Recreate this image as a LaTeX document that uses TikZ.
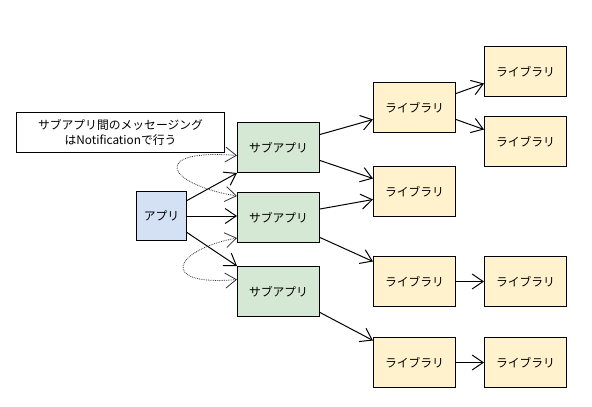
\documentclass[tikz,border=0pt]{standalone}
\usepackage{fontspec}
\setmainfont{Noto Sans CJK JP}
\usetikzlibrary{arrows.meta}
\definecolor{appfill}{HTML}{D4E1F5}
\definecolor{subfill}{HTML}{D5E8D4}
\definecolor{libfill}{HTML}{FFF2CC}
\definecolor{dotcol}{HTML}{333333}
\begin{document}
\begin{tikzpicture}[x=1pt,y=-1pt,
  box/.style={draw=black,line width=1pt,anchor=north west,inner sep=0pt,
    font=\fontsize{11.8}{15}\selectfont,align=center},
  appbox/.style={box,fill=appfill,minimum width=50pt,minimum height=49pt},
  subbox/.style={box,fill=subfill,minimum width=82pt,minimum height=50pt},
  libbox/.style={box,fill=libfill,minimum width=82pt,minimum height=50pt},
  notebox/.style={box,fill=white,minimum width=208pt,minimum height=40pt},
  conn/.style={line width=1pt,-{Straight Barb[length=11pt,width=15pt]}},
  dotconn/.style={dotcol,densely dotted,line width=0.8pt,
    {Straight Barb[length=11pt,width=15pt]}-{Straight Barb[length=11pt,width=15pt]}}]
\useasboundingbox (0,0) rectangle (592,407);
\fill[white] (0,0) rectangle (592,407);

\node[notebox] (note) at (16,112) {サブアプリ間のメッセージング\\はNotificationで行う};
\node[appbox] (app) at (136,191) {アプリ};
\node[subbox] (s1) at (237,122) {サブアプリ};
\node[subbox] (s2) at (237,192) {サブアプリ};
\node[subbox] (s3) at (237,266) {サブアプリ};
\node[libbox] (la) at (373,82) {ライブラリ};
\node[libbox] (lb) at (373,166) {ライブラリ};
\node[libbox] (lc) at (373,256) {ライブラリ};
\node[libbox] (ld) at (373,337) {ライブラリ};
\node[libbox] (r1) at (484,46) {ライブラリ};
\node[libbox] (r2) at (484,116) {ライブラリ};
\node[libbox] (r3) at (484,256) {ライブラリ};
\node[libbox] (r4) at (484,337) {ライブラリ};

% app -> sub apps
\draw[conn] ([yshift=15.5pt]app.east) -- (s1.south west);
\draw[conn] (app.east) -- (app.east -| s2.west);
\draw[conn] ([yshift=-16.5pt]app.east) -- (s3.north west);

% messaging between sub apps
\draw[dotconn] ([yshift=-8pt]s1.west) .. controls +(-87,-7) and +(-72,-12) .. ([yshift=21.5pt]s2.west);
\draw[dotconn] ([yshift=-20.5pt]s2.west) .. controls +(-64,12) and +(-79,7) .. ([yshift=12pt]s3.west);

% sub apps -> libraries
\draw[conn] ([yshift=13pt]s1.east) -- ([yshift=-12pt]la.west);
\draw[conn] ([yshift=-13pt]s1.east) -- ([yshift=13pt]lb.west);
\draw[conn] ([yshift=8.5pt]s2.east) -- ([yshift=-8pt]lb.west);
\draw[conn] ([yshift=-20pt]s2.east) -- ([yshift=20pt]lc.west);
\draw[conn] ([yshift=-21pt]s3.east) -- ([yshift=22pt]ld.west);

% libraries -> libraries
\draw[conn] ([yshift=14pt]la.east) -- ([yshift=-12pt]r1.west);
\draw[conn] ([yshift=-12pt]la.east) -- ([yshift=12pt]r2.west);
\draw[conn] (lc.east) -- (r3.west);
\draw[conn] (ld.east) -- (r4.west);
\end{tikzpicture}
\end{document}
